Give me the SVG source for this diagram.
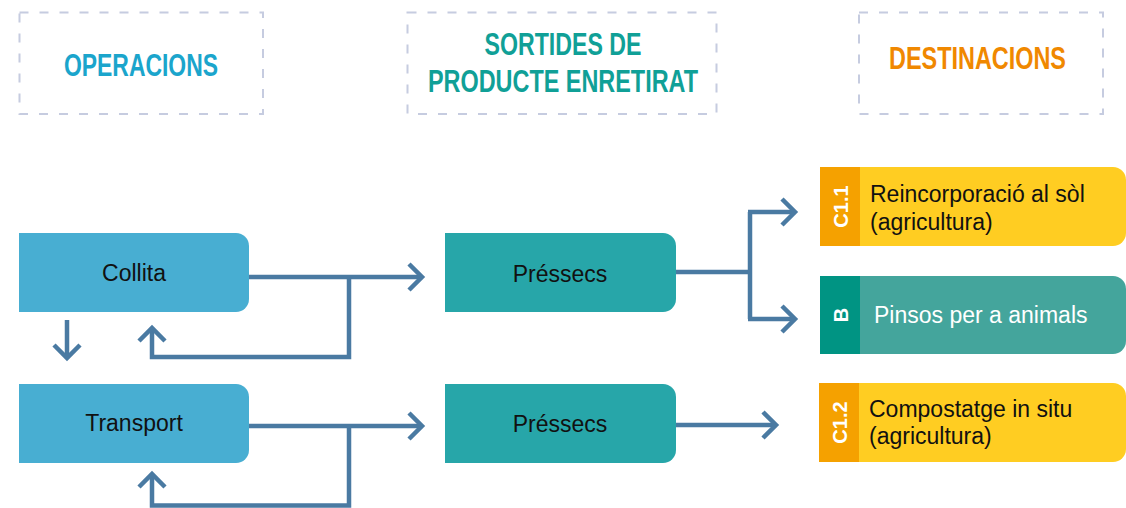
<svg xmlns="http://www.w3.org/2000/svg" width="1126" height="508" viewBox="0 0 1126 508">
<style>
.hdr{fill:none;stroke:#c6cce0;stroke-width:2;stroke-dasharray:9 11}
.ht{font-family:"Liberation Sans",Arial,sans-serif;font-weight:bold;font-size:31px;text-anchor:middle}
.nt{font-family:"Liberation Sans",Arial,sans-serif;font-size:23px;fill:#111;text-anchor:middle}
.dt{font-family:"Liberation Sans",Arial,sans-serif;font-size:23px;fill:#111}
.lb{font-family:"Liberation Sans",Arial,sans-serif;font-weight:bold;font-size:20px;fill:#fff;text-anchor:middle}
.op{fill:#48aed2}
.pr{fill:#27a6a9}
.conn path{fill:none;stroke:#4a7aa2;stroke-width:4.5;stroke-linejoin:miter;stroke-linecap:butt}
</style>
<g id="hdr-operacions">
<rect class="hdr" x="19.5" y="12.5" width="243.5" height="101.5"/>
<text class="ht" x="141" y="76" fill="#1ba5cc" textLength="154" lengthAdjust="spacingAndGlyphs">OPERACIONS</text>
</g>
<g id="hdr-sortides">
<rect class="hdr" x="407.5" y="12.5" width="309" height="101.5"/>
<text class="ht" x="563" y="55" fill="#10a097" textLength="157" lengthAdjust="spacingAndGlyphs">SORTIDES DE</text>
<text class="ht" x="563" y="92" fill="#10a097" textLength="270" lengthAdjust="spacingAndGlyphs">PRODUCTE ENRETIRAT</text>
</g>
<g id="hdr-destinacions">
<rect class="hdr" x="859" y="12.5" width="244" height="101.5"/>
<text class="ht" x="977.5" y="69" fill="#f08800" textLength="177" lengthAdjust="spacingAndGlyphs">DESTINACIONS</text>
</g>
<g id="collita">
<path class="op" d="M19 233H236A13 13 0 0 1 249 246V299A13 13 0 0 1 236 312H19Z"/>
<text class="nt" x="134" y="281">Collita</text>
</g>
<g id="transport">
<path class="op" d="M19 384H236A13 13 0 0 1 249 397V450A13 13 0 0 1 236 463H19Z"/>
<text class="nt" x="134" y="431">Transport</text>
</g>
<g id="pressecs1">
<path class="pr" d="M445 233H663A13 13 0 0 1 676 246V299A13 13 0 0 1 663 312H445Z"/>
<text class="nt" x="560" y="282">Préssecs</text>
</g>
<g id="pressecs2">
<path class="pr" d="M445 384H663A13 13 0 0 1 676 397V450A13 13 0 0 1 663 463H445Z"/>
<text class="nt" x="560" y="432">Préssecs</text>
</g>
<g id="dest-c11">
<path fill="#ffcd22" d="M820 167H1113A13 13 0 0 1 1126 180V233A13 13 0 0 1 1113 246H820Z"/>
<rect fill="#f5a100" x="820" y="167" width="40" height="79"/>
<text class="lb" transform="translate(847.5 206.5) rotate(-90)">C1.1</text>
<text class="dt" x="870" y="202">Reincorporació al sòl</text>
<text class="dt" x="870" y="230">(agricultura)</text>
</g>
<g id="dest-b">
<path fill="#44a59c" d="M820 276H1113A13 13 0 0 1 1126 289V341A13 13 0 0 1 1113 354H820Z"/>
<rect fill="#009483" x="820" y="276" width="40" height="78"/>
<text class="lb" transform="translate(847.5 315) rotate(-90)">B</text>
<text class="dt" x="874" y="323" style="fill:#fff">Pinsos per a animals</text>
</g>
<g id="dest-c12">
<path fill="#ffcd22" d="M819 383H1113A13 13 0 0 1 1126 396V449A13 13 0 0 1 1113 462H819Z"/>
<rect fill="#f5a100" x="819" y="383" width="40" height="79"/>
<text class="lb" transform="translate(846.5 422.5) rotate(-90)">C1.2</text>
<text class="dt" x="869" y="417">Compostatge in situ</text>
<text class="dt" x="869" y="444">(agricultura)</text>
</g>
<g id="connectors" class="conn">
<path d="M249 277H421"/>
<path d="M409 264L422 277L409 290"/>
<path d="M349 277V357H152V328"/>
<path d="M139 341L152 328L165 341"/>
<path d="M67 320V357"/>
<path d="M54 345L67 358L80 345"/>
<path d="M249 426H421"/>
<path d="M409 413L422 426L409 439"/>
<path d="M349 426V505.5H152V474"/>
<path d="M139 487L152 474L165 487"/>
<path d="M676 272H750"/>
<path d="M750 212V319"/>
<path d="M748 212H794"/>
<path d="M782 199L795 212L782 225"/>
<path d="M748 319H794"/>
<path d="M782 306L795 319L782 332"/>
<path d="M676 425H775"/>
<path d="M763 412L776 425L763 438"/>
</g>
</svg>
